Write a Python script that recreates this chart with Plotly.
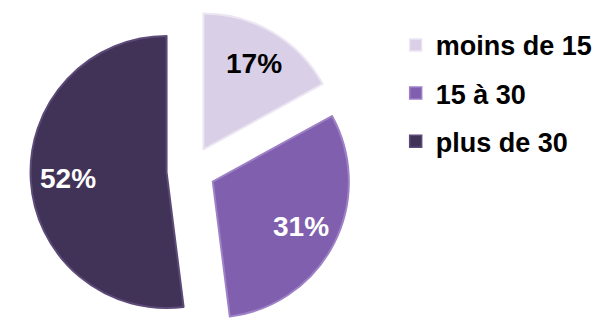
import math
import plotly.graph_objects as go

# Age groups and their share of the total
categories = ["moins de 15", "15 à 30", "plus de 30"]
values = [17, 31, 52]
slice_colors = ["#d9cfe6", "#7f5fae", "#413257"]
edge_colors = ["#ece6f3", "#9d80c6", "#5c4a78"]
label_colors = ["#000000", "#ffffff", "#ffffff"]

W, H = 598, 331
MARGIN_T = 10
PULL = 0.18
DOMAIN_X = [0, 0.642]
DOMAIN_Y = [0, 1]
LABEL_RADIUS = 0.73  # label distance from the slice tip, as a fraction of the radius

fig = go.Figure()

fig.add_trace(go.Pie(
    labels=categories,
    values=values,
    sort=False,
    direction="clockwise",
    rotation=0,
    pull=[PULL] * len(values),
    marker=dict(colors=slice_colors, line=dict(color=edge_colors, width=2)),
    textinfo="none",
    showlegend=False,
    domain=dict(x=DOMAIN_X, y=DOMAIN_Y),
    hoverinfo="label+percent",
))

# Percentage labels placed along each slice's bisector
plot_w, plot_h = W, H - MARGIN_T
dom_w = (DOMAIN_X[1] - DOMAIN_X[0]) * plot_w
dom_h = (DOMAIN_Y[1] - DOMAIN_Y[0]) * plot_h
r_px = min(dom_w, dom_h) / 2 / (1 + PULL)
cx = (DOMAIN_X[0] + DOMAIN_X[1]) / 2
cy = (DOMAIN_Y[0] + DOMAIN_Y[1]) / 2
total = sum(values)
start = 0.0
for v, col in zip(values, label_colors):
    frac = v / total
    mid = 2 * math.pi * (start + frac / 2)  # clockwise from 12 o'clock
    dist = (PULL + LABEL_RADIUS) * r_px
    fig.add_annotation(
        x=cx + dist * math.sin(mid) / plot_w,
        y=cy + dist * math.cos(mid) / plot_h,
        xref="paper", yref="paper", xanchor="center", yanchor="middle",
        showarrow=False,
        text=f"{round(frac * 100)}%",
        font=dict(family="Liberation Sans, Arial", size=28, color=col, weight="bold"),
    )
    start += frac

# Legend entries, one group per category so the rows can be spaced apart
for name, col, edge in zip(categories, slice_colors, edge_colors):
    fig.add_trace(go.Scatter(
        x=[None], y=[None], mode="markers", name=name, legendgroup=name,
        marker=dict(symbol="square", size=12, color=col, line=dict(color=edge, width=1.5)),
    ))

fig.update_layout(
    width=W, height=H,
    margin=dict(l=0, r=0, t=MARGIN_T, b=0),
    paper_bgcolor="white", plot_bgcolor="white",
    xaxis=dict(visible=False), yaxis=dict(visible=False),
    legend=dict(
        x=0.665, y=0.966, xanchor="left", yanchor="top",
        font=dict(family="Liberation Sans, Arial", size=27, color="#000000", weight="bold"),
        tracegroupgap=10, bgcolor="rgba(0,0,0,0)",
    ),
)

fig.write_html("out.html")
